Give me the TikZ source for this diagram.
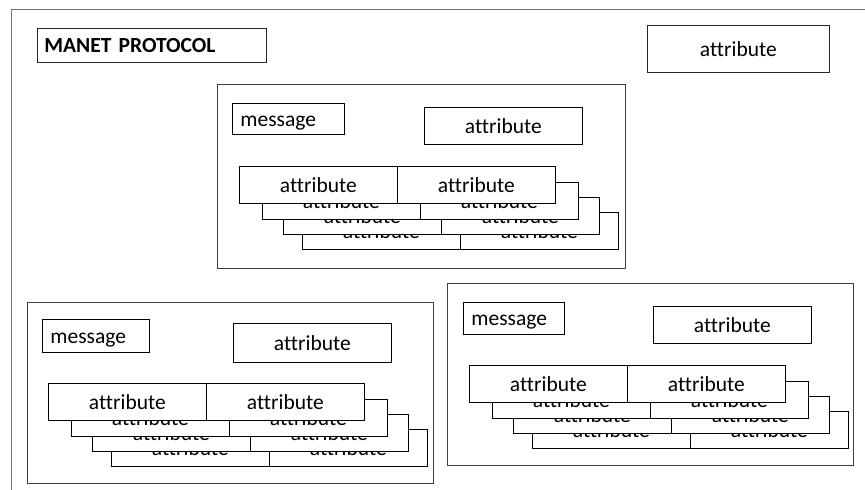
\documentclass[tikz,border=0pt]{standalone}
\usepackage{fontspec}
\setmainfont[Ligatures=NoCommon]{Carlito}
\begin{document}
\begin{tikzpicture}[x=1pt,y=-1pt,
  txt/.style={font=\fontsize{21.5pt}{25pt}\selectfont, text height=15pt, text depth=0pt},
  framepath/.style={draw=black!55, line width=0.9pt},
  groupbox/.style={draw=black!75, line width=1.3pt, inner sep=0pt, anchor=north west},
  box/.style={txt, draw=black, line width=0.8pt, fill=white, inner sep=0pt, anchor=north west},
  attrbox/.style={box, minimum width=158pt, minimum height=37pt},
  leftbox/.style 2 args={box, minimum height=#2, inner xsep=8pt, text width=#1-16pt, align=left},
]
\useasboundingbox (0,0) rectangle (865,490);

% outer frame (open to the right and bottom)
\coordinate (fbl) at (11,490);
\coordinate (ftl) at (11,9);
\coordinate (ftr) at (865,9);
\draw[framepath] (fbl) -- (ftl) -- (ftr);

% title and free attribute
\node[box, draw=black!85, minimum height=34pt, inner xsep=7pt, text width=215pt, align=left,
      font=\fontsize{21.5pt}{25pt}\selectfont\bfseries] (title) at (37,28) {MANET PROTOCOL};
\node[box, draw=black!85, minimum width=182pt, minimum height=47pt] (topattr) at (647,25) {attribute};

% a stack of attribute pairs, drawn back to front
\newcommand\attrstack[3]{%
  \foreach \i/\dx/\dy in {3/63/46, 2/44/31, 1/23/16, 0/0/0} {
    \node[attrbox] (#1s\i a) at (#2+\dx, #3+\dy) {attribute};
    \node[attrbox] (#1s\i b) at (#2+158+\dx, #3+\dy) {attribute};
  }%
}

% group 1
\node[groupbox, minimum width=408pt, minimum height=184pt] (g1) at (217,84) {};
\node[leftbox={112pt}{31pt}] (g1msg) at (232,103) {message};
\node[attrbox] (g1attr) at (424,107) {attribute};
\attrstack{g1}{239}{166}

% group 2
\node[groupbox, minimum width=406pt, minimum height=181pt] (g2) at (27,302) {};
\node[leftbox={107pt}{33pt}] (g2msg) at (42,319) {message};
\node[attrbox, minimum height=39pt] (g2attr) at (233,323) {attribute};
\attrstack{g2}{48}{383}

% group 3
\node[groupbox, minimum width=406pt, minimum height=182pt] (g3) at (447,283) {};
\node[leftbox={101pt}{32pt}] (g3msg) at (463,302) {message};
\node[attrbox] (g3attr) at (653,306) {attribute};
\attrstack{g3}{469}{365}
\end{tikzpicture}
\end{document}
